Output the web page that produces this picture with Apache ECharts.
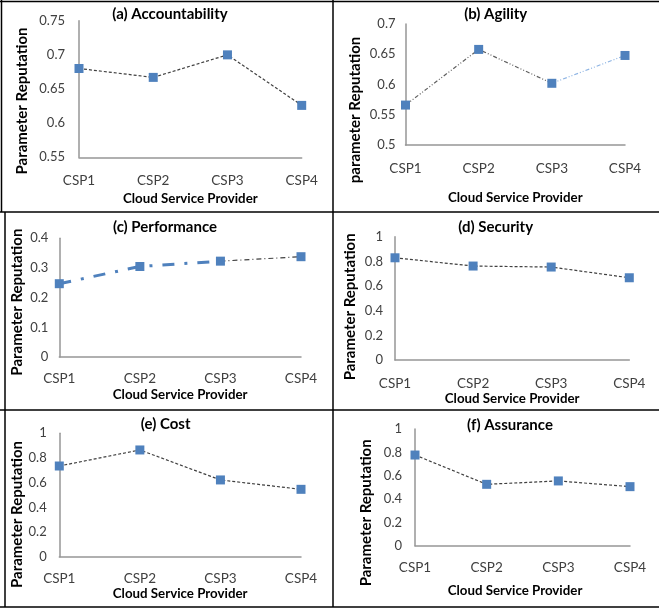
<!DOCTYPE html>
<html><head><meta charset="utf-8">
<script src="https://cdn.jsdelivr.net/npm/echarts@6/dist/echarts.min.js"></script>
<style>html,body{margin:0;padding:0;background:#fff}#c{width:659px;height:610px}</style>
</head><body><div id="c"></div>
<script>
const categories = ['CSP1', 'CSP2', 'CSP3', 'CSP4'];
const accountability = [0.680, 0.667, 0.700, 0.626];
const agility = [0.566, 0.658, 0.602, 0.648];
const performance = [0.247, 0.305, 0.323, 0.338];
const security = [0.829, 0.762, 0.754, 0.667];
const cost = [0.735, 0.865, 0.622, 0.546];
const assurance = [0.777, 0.526, 0.555, 0.506];
const panelTitles = ['(a) Accountability', '(b) Agility', '(c) Performance', '(d) Security', '(e) Cost', '(f) Assurance'];
const yNames = ['Parameter Reputation', 'parameter Reputation', 'Parameter Reputation', 'Parameter Reputation', 'Parameter Reputation', 'Parameter Reputation'];
const xName = 'Cloud Service Provider';
const yMin = [0.55, 0.5, 0, 0, 0, 0];
const yMax = [0.75, 0.7, 0.4, 1, 1, 1];
const yStep = [0.05, 0.05, 0.1, 0.2, 0.2, 0.2];
const seriesValues = [accountability, agility, performance, security, cost, assurance];

// layout (pixels)
const layout = [
  {l: 79,  t: 20.7, r: 301.7, b: 157.3, tx: 170,   ty: 7,   lm: 16, xg: 35,   ym: 14, yg: 49.5, yp: 24, xp: 0},
  {l: 405.5, t: 24, r: 625, b: 145,    tx: 495.7, ty: 7,   lm: 17, xg: 46.5, ym: 10, yg: 42.5, yp: 51, xp: 0},
  {l: 59.3, t: 238.3, r: 301, b: 357,   tx: 165,   ty: 220, lm: 15, xg: 31,   ym: 11, yg: 35,   yp: 9,  xp: 0},
  {l: 395, t: 236.7, r: 629.3, b: 360,  tx: 495.7, ty: 220, lm: 17, xg: 32,   ym: 12, yg: 37,   yp: 17, xp: 0},
  {l: 59.3, t: 433.3, r: 301, b: 556.7, tx: 165.7, ty: 417, lm: 15, xg: 31,   ym: 12.6, yg: 35,  yp: 39, xp: 0},
  {l: 415, t: 429, r: 630, b: 545.7,    tx: 510,   ty: 418, lm: 15, xg: 38.5, ym: 13, yg: 41,   yp: 51, xp: 15}
];

const FONT = 'Lato';
const BLUE = '#4F81BD';
const DARK = '#404040';
const AXIS = '#969696';

const grid = [], xAxis = [], yAxis = [], title = [], series = [];
layout.forEach((p, i) => {
  grid.push({left: p.l, top: p.t, width: p.r - p.l, height: p.b - p.t});
  title.push({
    text: panelTitles[i], left: p.tx, top: p.ty, textAlign: 'center', padding: 0,
    textStyle: {fontFamily: FONT, fontWeight: 'bold', fontSize: 15, color: '#000'}
  });
  xAxis.push({
    type: 'category', gridIndex: i, data: categories, boundaryGap: false,
    axisLine: {lineStyle: {color: AXIS, width: 1.5}}, axisTick: {show: false},
    axisLabel: {margin: p.lm, fontFamily: FONT, fontSize: 13.5, color: DARK},
    name: xName, nameLocation: 'middle', nameGap: p.xg,
    nameTextStyle: {fontFamily: FONT, fontWeight: 'bold', fontSize: 13.3, color: '#000', padding: [0, p.xp, 0, 0]}
  });
  yAxis.push({
    type: 'value', gridIndex: i, min: yMin[i], max: yMax[i], interval: yStep[i],
    axisLine: {show: true, lineStyle: {color: AXIS, width: 1.5}}, axisTick: {show: false},
    splitLine: {show: false},
    axisLabel: {margin: p.ym, fontFamily: FONT, fontSize: 13, color: DARK,
      formatter: v => String(Math.round(v * 100) / 100)},
    name: yNames[i], nameLocation: 'middle', nameGap: p.yg,
    nameTextStyle: {fontFamily: FONT, fontWeight: 'bold', fontSize: 15, color: '#000', padding: [0, p.yp, 0, 0]}
  });
});

const markerSeries = (i) => ({
  type: 'line', xAxisIndex: i, yAxisIndex: i, data: seriesValues[i],
  symbol: 'rect', symbolSize: 9, itemStyle: {color: BLUE},
  lineStyle: {width: 0, opacity: 0}, z: 5, silent: true, animation: false
});
const segSeries = (i, data, color, width, dash) => ({
  type: 'line', xAxisIndex: i, yAxisIndex: i, data: data, showSymbol: false, symbol: 'none',
  lineStyle: {color: color, width: width, type: dash}, z: 2, animation: false, connectNulls: false
});

// (a)
series.push(segSeries(0, accountability, DARK, 1.2, [3, 2]));
series.push(markerSeries(0));
// (b) dark dash-dot-dot then light blue segment
series.push(segSeries(1, agility.map((v, k) => k <= 2 ? v : null), '#606060', 1.2, [4, 2, 1, 2, 1, 2]));
series.push(segSeries(1, agility.map((v, k) => k >= 2 ? v : null), '#8EB4E3', 1.2, [4, 2, 1, 2, 1, 2]));
series.push(markerSeries(1));
// (c) thick blue dash-dot then thin dark dash-dot
series.push(segSeries(2, performance.map((v, k) => k <= 2 ? v : null), BLUE, 3, [12, 10, 3, 10]));
series.push(segSeries(2, performance.map((v, k) => k >= 2 ? v : null), DARK, 1.2, [5, 3, 1, 3]));
series.push(markerSeries(2));
// (d), (e), (f)
[3, 4, 5].forEach(i => {
  series.push(segSeries(i, seriesValues[i], DARK, 1.2, [3, 2]));
  series.push(markerSeries(i));
});

const borders = [
  [0, 1.5, 659, 1.5],
  [1.5, 0, 1.5, 212],
  [5, 212, 5, 607],
  [333, 0, 333, 607],
  [0, 212, 659, 212],
  [0, 410, 659, 410],
  [0, 607, 659, 607]
];
const graphic = borders.map(b => ({
  type: 'line', shape: {x1: b[0], y1: b[1], x2: b[2], y2: b[3]},
  style: {stroke: '#000', lineWidth: 1.5}, silent: true
}));

const chart = echarts.init(document.getElementById('c'), null, {renderer: 'canvas'});
chart.setOption({animation: false, title, grid, xAxis, yAxis, series, graphic});
</script></body></html>
